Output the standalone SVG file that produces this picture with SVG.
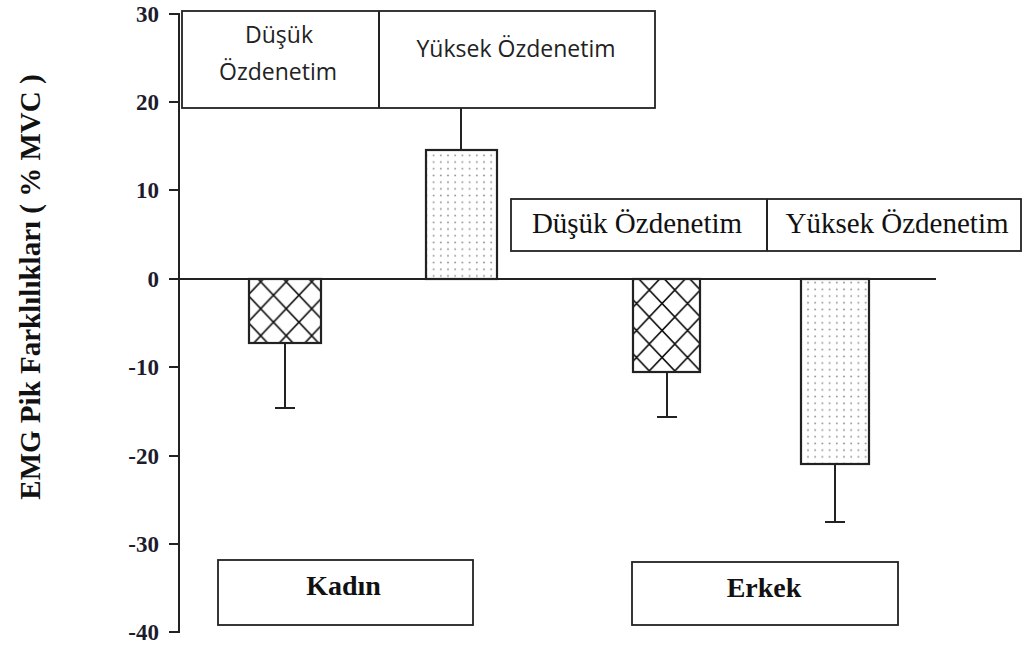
<svg xmlns="http://www.w3.org/2000/svg" width="1022" height="648" viewBox="0 0 1022 648">
<style>
.box{fill:#fff;stroke:#222;stroke-width:1.8}
.bar{stroke:#222;stroke-width:2.2}
.ln{stroke:#222;stroke-width:2;fill:none}
.tick{font-family:"Liberation Serif",serif;font-weight:bold;font-size:23px;fill:#1c1c2c;text-anchor:end}
.sans{font-family:"Open Sans","Noto Sans",sans-serif;font-size:23px;fill:#222;text-anchor:middle}
.serif{font-family:"Liberation Serif",serif;font-size:29px;fill:#111;text-anchor:middle}
.bold{font-family:"Liberation Serif",serif;font-weight:bold;font-size:28px;fill:#111;text-anchor:middle}
</style>
<defs>
<pattern id="hatchA" patternUnits="userSpaceOnUse" x="260.7" y="281.7" width="25.5" height="27">
<path d="M-2,-2.1 L27.5,29.1 M27.5,-2.1 L-2,29.1" stroke="#111" stroke-width="1.6"/>
</pattern>
<pattern id="hatchB" patternUnits="userSpaceOnUse" x="649.3" y="290" width="25.5" height="27">
<path d="M-2,-2.1 L27.5,29.1 M27.5,-2.1 L-2,29.1" stroke="#111" stroke-width="1.6"/>
</pattern>
<pattern id="dots" patternUnits="userSpaceOnUse" x="430" y="152" width="7.2" height="6.7">
<circle cx="3.6" cy="3.3" r="1" fill="#999"/>
</pattern>
</defs>
<rect width="1022" height="648" fill="#fff"/>

<g id="axis">
<path class="ln" d="M179,13 V633 M169,14 H179 M169,102 H179 M169,190 H179 M169,367 H179 M169,456 H179 M169,544 H179 M169,632 H179"/>
<path class="ln" d="M169,279 H936"/>
<text class="tick" x="159" y="22">30</text>
<text class="tick" x="159" y="110">20</text>
<text class="tick" x="159" y="198">10</text>
<text class="tick" x="159" y="287">0</text>
<text class="tick" x="159" y="375">-10</text>
<text class="tick" x="159" y="464">-20</text>
<text class="tick" x="159" y="552">-30</text>
<text class="tick" x="159" y="640">-40</text>
<text font-family="Liberation Serif,serif" font-weight="bold" font-size="29" fill="#111" text-anchor="middle" transform="translate(40,287) rotate(-90)">EMG Pik Farklılıkları ( % MVC )</text>
</g>

<g id="connectors">
<path class="ln" d="M285,343 V408 M275,408 H295"/>
<path class="ln" d="M461,150 V108"/>
<path class="ln" d="M667,372 V417 M657,417 H677"/>
<path class="ln" d="M835,464 V522 M825,522 H845"/>
</g>

<g id="bar-kadin-dusuk"><rect class="bar" x="249" y="279" width="72" height="64" fill="url(#hatchA)"/></g>
<g id="bar-kadin-yuksek"><rect class="bar" x="426" y="150" width="71" height="129" fill="url(#dots)"/></g>
<g id="bar-erkek-dusuk"><rect class="bar" x="633" y="279" width="67" height="93" fill="url(#hatchB)"/></g>
<g id="bar-erkek-yuksek"><rect class="bar" x="801" y="279" width="68" height="185" fill="url(#dots)"/></g>

<g id="legend-top">
<rect class="box" x="182" y="11" width="473" height="97"/>
<path class="ln" d="M379,11 V108" stroke-width="1.8"/>
<text class="sans" x="279" y="43">Düşük</text>
<text class="sans" x="278" y="80">Özdenetim</text>
<text class="sans" x="516" y="57">Yüksek Özdenetim</text>
</g>

<g id="legend-right">
<rect class="box" x="511" y="199" width="510" height="52"/>
<path class="ln" d="M767,199 V251" stroke-width="1.8"/>
<text class="serif" x="637" y="233">Düşük Özdenetim</text>
<text class="serif" x="897" y="233">Yüksek Özdenetim</text>
</g>

<g id="label-kadin">
<rect class="box" x="218" y="560" width="255" height="65"/>
<text class="bold" x="343.5" y="595">Kadın</text>
</g>

<g id="label-erkek">
<rect class="box" x="632" y="562" width="266" height="63"/>
<text class="bold" x="764" y="597">Erkek</text>
</g>
</svg>
